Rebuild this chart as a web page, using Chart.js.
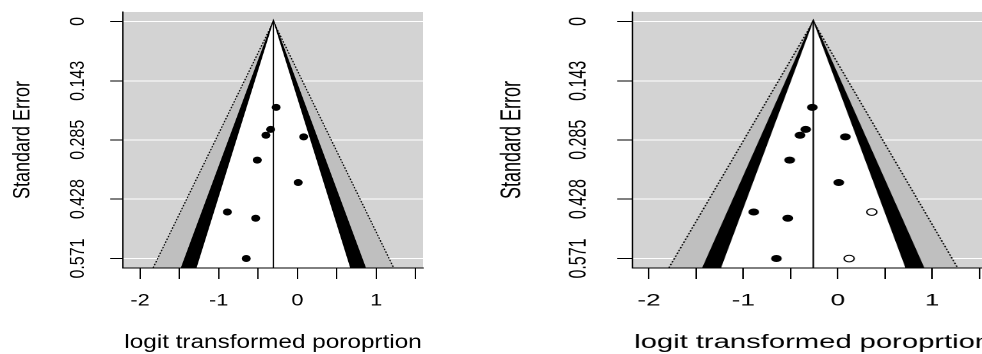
<!DOCTYPE html>
<html>
<head>
<meta charset="utf-8">
<script src="https://cdn.jsdelivr.net/npm/chart.js@4.4.0/dist/chart.umd.min.js"></script>
<style>
  html, body { margin: 0; padding: 0; background: #fff; overflow: hidden; width: 982px; height: 354px; }
  .painel { position: absolute; top: 0; width: 384px; height: 354px; transform-origin: 0 0; }
  #painelEsq { left: 0; transform: scaleX(1.28); }
  #painelDir { left: 485.4px; transform: scaleX(1.536); }
</style>
</head>
<body>
<div class="painel" id="painelEsq"><canvas id="funilOriginal" width="384" height="354"></canvas></div>
<div class="painel" id="painelDir"><canvas id="funilTrimFill" width="384" height="354"></canvas></div>
<script>
// ======== DADOS ========
const estudosLogit = [-0.27, -0.34, -0.40, 0.08, -0.51, 0.01, -0.89, -0.53, -0.65];
const estudosSE = [0.207, 0.260, 0.274, 0.278, 0.334, 0.388, 0.459, 0.474, 0.571];
const preenchidosLogit = [0.36, 0.12];   // estudos imputados (trim and fill)
const preenchidosSE = [0.459, 0.571];
const seTicks = [0, 0.143, 0.285, 0.428, 0.571];
const seTickLabels = ["0", "0.143", "0.285", "0.428", "0.571"];
const xTicks = [-2, -1.5, -1, -0.5, 0, 0.5, 1, 1.5];
const xTickLabels = ["-2", "", "-1", "", "0", "", "1", ""];
const estimativaOriginal = -0.305;
const estimativaTrimFill = -0.26;
const niveisZ = [2.576, 1.96, 1.645]; // 99%, 95%, 90%
const coresContorno = ["#bfbfbf", "#000000", "#ffffff"];
const seLimite = [-0.0228, 0.5938];
const xLimiteOriginal = [-2.216, 1.597];
const xLimiteTrimFill = [-2.173, 1.640];

const fonte = "'Liberation Sans', Arial, Helvetica, sans-serif";

// fundo cinza da área do gráfico
const fundoCinza = {
    id: "fundoCinza",
    beforeDraw(chart) {
        const { ctx, chartArea: a } = chart;
        ctx.save();
        ctx.fillStyle = "#d3d3d3";
        ctx.fillRect(a.left, a.top, a.right - a.left, a.bottom - a.top);
        ctx.restore();
    }
};

function criarFunil(idCanvas, estimativa, xLimite, comPreenchidos) {
    const seBase = seLimite[1];

    // regiões de contorno (99%, 95%, 90%)
    const contornos = niveisZ.map(function (z, i) {
        return {
            type: "line",
            data: [
                { x: estimativa - z * seBase, y: seBase },
                { x: estimativa, y: 0 },
                { x: estimativa + z * seBase, y: seBase }
            ],
            backgroundColor: coresContorno[i],
            borderColor: i === 2 ? "rgba(0,0,0,0)" : "#000",
            borderWidth: i === 1 ? 1.6 : 1,
            borderDash: i === 0 ? [1.5, 1.5] : [],
            fill: { value: seBase },
            pointRadius: 0,
            tension: 0,
            order: 10 - i
        };
    });

    const datasets = contornos.concat([
        {
            type: "line",
            data: [{ x: estimativa, y: 0 }, { x: estimativa, y: seBase }],
            borderColor: "#000",
            borderWidth: 1,
            pointRadius: 0,
            fill: false,
            order: 3
        },
        {
            type: "line",
            data: estudosLogit.map((x, i) => ({ x: x, y: estudosSE[i] })),
            showLine: false,
            pointRadius: 3.5,
            pointBackgroundColor: "#000",
            pointBorderColor: "#000",
            pointBorderWidth: 0,
            order: 1
        }
    ]);

    if (comPreenchidos) {
        datasets.push({
            type: "line",
            data: preenchidosLogit.map((x, i) => ({ x: x, y: preenchidosSE[i] })),
            showLine: false,
            pointRadius: 3.3,
            pointBackgroundColor: "#fff",
            pointBorderColor: "#000",
            pointBorderWidth: 1,
            order: 0
        });
    }

    new Chart(document.getElementById(idCanvas), {
        type: "line",
        data: { datasets: datasets },
        plugins: [fundoCinza],
        options: {
            responsive: false,
            animation: false,
            devicePixelRatio: 2,
            events: [],
            layout: { padding: { left: 0, top: 12, right: 53.5, bottom: 0 } },
            plugins: { legend: { display: false }, tooltip: { enabled: false } },
            scales: {
                x: {
                    type: "linear",
                    min: xLimite[0],
                    max: xLimite[1],
                    afterBuildTicks: s => { s.ticks = xTicks.map(v => ({ value: v })); },
                    afterFit: s => { s.height = 86; s.paddingLeft = 0; s.paddingRight = 0; },
                    ticks: {
                        callback: (v, i) => xTickLabels[i],
                        font: { family: fonte, size: 17 },
                        color: "#000",
                        padding: 11.8,
                        maxRotation: 0,
                        autoSkip: false
                    },
                    grid: { drawOnChartArea: false, color: "#000", tickLength: 11, lineWidth: 1 },
                    border: { color: "#000", width: 1, z: 1 },
                    title: {
                        display: true,
                        text: "logit transformed poroprtion",
                        font: { family: fonte, size: 19, lineHeight: 1 },
                        color: "#000",
                        padding: { top: 0, bottom: 1.5 }
                    }
                },
                y: {
                    type: "linear",
                    reverse: true,
                    min: seLimite[0],
                    max: seLimite[1],
                    afterBuildTicks: s => { s.ticks = seTicks.map(v => ({ value: v })); },
                    afterFit: s => { s.width = 96.1; s.paddingTop = 0; s.paddingBottom = 0; },
                    ticks: {
                        callback: (v, i) => seTickLabels[i],
                        font: { family: fonte, size: 16 },
                        color: "#000",
                        padding: 5.1,
                        minRotation: 90,
                        maxRotation: 90,
                        crossAlign: "center",
                        autoSkip: false
                    },
                    grid: { color: "#fff", tickColor: "#000", tickLength: 10, lineWidth: 1 },
                    border: { color: "#000", width: 1, z: 1 },
                    title: {
                        display: true,
                        text: "Standard Error",
                        font: { family: fonte, size: 18, lineHeight: 1 },
                        color: "#000",
                        padding: { top: 9, bottom: 0 }
                    }
                }
            }
        }
    });
}

// ======== FUNIL ORIGINAL ========
criarFunil("funilOriginal", estimativaOriginal, xLimiteOriginal, false);

// ======== FUNIL APÓS TRIM AND FILL ========
criarFunil("funilTrimFill", estimativaTrimFill, xLimiteTrimFill, true);
</script>
</body>
</html>
